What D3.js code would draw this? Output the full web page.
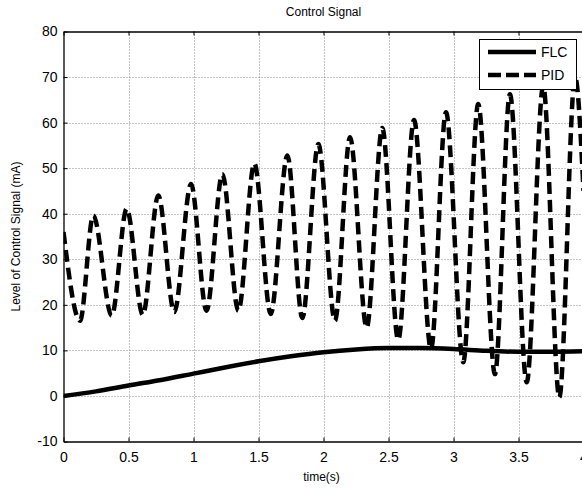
<!DOCTYPE html>
<html><head><meta charset="utf-8">
<script src="https://cdn.jsdelivr.net/npm/d3@7"></script>
<style>body{margin:0;background:#fff;} svg{display:block;}</style>
</head><body>
<svg id="c" width="582" height="489"></svg>
<script>
const xTicks = [0,0.5,1,1.5,2,2.5,3,3.5,4];
const xTickLabels = ["0","0.5","1","1.5","2","2.5","3","3.5","4"];
const yTicks = [-10,0,10,20,30,40,50,60,70,80];
const yTickLabels = ["-10","0","10","20","30","40","50","60","70","80"];

const flcTime  = [0,0.25,0.5,0.75,1,1.25,1.5,1.75,2,2.25,2.5,2.75,3,3.25,3.5,3.75,4];
const flcValue = [0,1,2.3,3.5,4.9,6.3,7.6,8.7,9.6,10.2,10.5,10.5,10.3,9.9,9.7,9.7,9.8];

const pidTime  = [0,0.127,0.229,0.371,0.486,0.61,0.729,0.852,0.981,1.10,1.222,1.345,1.468,1.594,1.722,1.837,1.96,2.088,2.204,2.332,2.452,2.575,2.696,2.827,2.942,3.075,3.19,3.319,3.434,3.563,3.69,3.814,3.935,4.0];
const pidValue = [36,16.5,39.6,17.6,41.1,17.8,44,18.4,46.5,18.7,48.7,18.7,51,18,52.8,17.1,55.3,16.5,56.8,15,58.8,12.3,60.6,10.3,62.3,7.4,64.1,4.8,66.2,3.0,68,-0.3,70,45];

const svg = d3.select("#c");
const L = 63.5, R = 583.5, T = 31.5, B = 441.5;
const x = d3.scaleLinear().domain([0,4]).range([L,R]);
const y = d3.scaleLinear().domain([-10,80]).range([B,T]);
const font = "Arial, 'Liberation Sans', sans-serif";

const defs = svg.append("defs");
defs.append("clipPath").attr("id","clip").append("rect")
  .attr("x",L).attr("y",T).attr("width",R-L).attr("height",B-T);

// grid
const grid = svg.append("g");
grid.selectAll(".gx").data(xTicks.slice(1,-1)).enter().append("line")
  .attr("x1",d=>Math.round(x(d))+0.5).attr("x2",d=>Math.round(x(d))+0.5)
  .attr("y1",T).attr("y2",B)
  .attr("stroke","#888").attr("stroke-width",1).attr("stroke-dasharray","1,2");
grid.selectAll(".gy").data(yTicks.slice(1,-1)).enter().append("line")
  .attr("y1",d=>Math.round(y(d))+0.5).attr("y2",d=>Math.round(y(d))+0.5)
  .attr("x1",L).attr("x2",R)
  .attr("stroke","#888").attr("stroke-width",1).attr("stroke-dasharray","1,2");

// axes
const xAxisB = d3.axisBottom(x).tickValues(xTicks).tickFormat((d,i)=>xTickLabels[i]).tickSizeInner(-4).tickSizeOuter(0).tickPadding(8);
const gxB = svg.append("g").attr("transform",`translate(0,${B})`).call(xAxisB);
const xAxisT = d3.axisTop(x).tickValues(xTicks).tickFormat("").tickSizeInner(-4).tickSizeOuter(0);
const gxT = svg.append("g").attr("transform",`translate(0,${T})`).call(xAxisT);
const yAxisL = d3.axisLeft(y).tickValues(yTicks).tickFormat((d,i)=>yTickLabels[i]).tickSizeInner(-4).tickSizeOuter(0).tickPadding(6);
const gyL = svg.append("g").attr("transform",`translate(${L},0)`).call(yAxisL);
[gxB,gxT,gyL].forEach(g=>{
  g.selectAll("path").attr("stroke","#000").attr("stroke-width",1.3);
  g.selectAll("line").attr("stroke","#000");
  g.selectAll("text").attr("font-family",font).attr("font-size",14).attr("fill","#000");
});
gxB.selectAll("text").attr("dy","0.9em");

// lines
const plot = svg.append("g").attr("clip-path","url(#clip)");
const flcLine = d3.line().x((d,i)=>x(flcTime[i])).y(d=>y(d)).curve(d3.curveMonotoneX);
const pidLine = d3.line().x((d,i)=>x(pidTime[i])).y(d=>y(d)).curve(d3.curveMonotoneX);
plot.append("path").attr("d",flcLine(flcValue)).attr("fill","none").attr("stroke","#000").attr("stroke-width",4.5);
plot.append("path").attr("d",pidLine(pidValue)).attr("fill","none").attr("stroke","#000").attr("stroke-width",4.5)
  .attr("stroke-dasharray","12,6");

// title & labels
svg.append("text").attr("x",(L+R)/2).attr("y",16).attr("text-anchor","middle")
  .attr("font-family",font).attr("font-size",12).text("Control Signal");
svg.append("text").attr("x",(L+R)/2 - 2).attr("y",481).attr("text-anchor","middle")
  .attr("font-family",font).attr("font-size",12).text("time(s)");
svg.append("text").attr("transform",`translate(20,${(T+B)/2}) rotate(-90)`).attr("text-anchor","middle")
  .attr("font-family",font).attr("font-size",12).text("Level of Control Signal (mA)");

// legend
const lg = svg.append("g");
lg.append("rect").attr("x",479.5).attr("y",39.5).attr("width",97).attr("height",50)
  .attr("fill","#fff").attr("stroke","#000").attr("stroke-width",1);
lg.append("line").attr("x1",488).attr("x2",536).attr("y1",52).attr("y2",52).attr("stroke","#000").attr("stroke-width",4.5);
lg.append("line").attr("x1",488).attr("x2",536).attr("y1",75).attr("y2",75).attr("stroke","#000").attr("stroke-width",4.5).attr("stroke-dasharray","13,5");
lg.append("text").attr("x",541).attr("y",57).attr("font-family",font).attr("font-size",14).text("FLC");
lg.append("text").attr("x",541).attr("y",80).attr("font-family",font).attr("font-size",14).text("PID");
</script>
</body></html>
